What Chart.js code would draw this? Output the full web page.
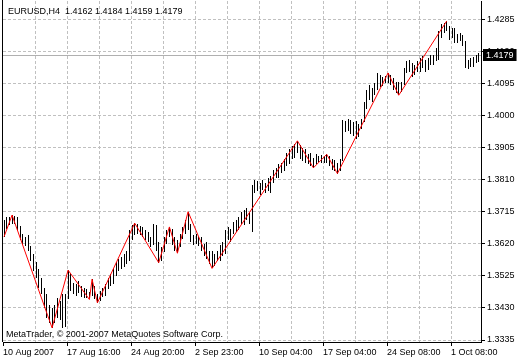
<!DOCTYPE html>
<html lang="en">
  <head>
    <meta charset="UTF-8" />
    <title>EURUSD,H4</title>
    <style>
      body { margin: 0; background: #fff; }
      canvas { display: block; }
    </style>
  </head>
  <body>
    <canvas id="chart" width="520" height="360"></canvas>
    <script src="https://cdn.jsdelivr.net/npm/chart.js"></script>
    <script>
      // H4 bars (one entry per bar, oldest first)
      const highs = [
        1.3690, 1.3700, 1.3698, 1.3705, 1.3702, 1.3700, 1.3672, 1.3650, 1.3640, 1.3645,
        1.3612, 1.3590, 1.3565, 1.3545, 1.3520, 1.3490, 1.3470, 1.3440, 1.3430, 1.3440,
        1.3460, 1.3450, 1.3470, 1.3470, 1.3542, 1.3530, 1.3505, 1.3500, 1.3510, 1.3495,
        1.3490, 1.3485, 1.3478, 1.3515, 1.3495, 1.3470, 1.3480, 1.3490, 1.3500, 1.3520,
        1.3530, 1.3545, 1.3565, 1.3575, 1.3580, 1.3590, 1.3600, 1.3660, 1.3675, 1.3681,
        1.3678, 1.3672, 1.3670, 1.3660, 1.3655, 1.3640, 1.3680, 1.3675, 1.3625, 1.3610,
        1.3640, 1.3660, 1.3670, 1.3665, 1.3640, 1.3630, 1.3650, 1.3670, 1.3690, 1.3715,
        1.3680, 1.3645, 1.3648, 1.3640, 1.3640, 1.3620, 1.3625, 1.3600, 1.3598, 1.3590,
        1.3600, 1.3615, 1.3625, 1.3660, 1.3670, 1.3665, 1.3685, 1.3690, 1.3700, 1.3715,
        1.3720, 1.3725, 1.3715, 1.3795, 1.3810, 1.3805, 1.3800, 1.3810, 1.3800, 1.3815,
        1.3820, 1.3840, 1.3845, 1.3855, 1.3860, 1.3870, 1.3890, 1.3900, 1.3910, 1.3915,
        1.3925, 1.3912, 1.3905, 1.3902, 1.3885, 1.3888, 1.3875, 1.3885, 1.3880, 1.3882,
        1.3880, 1.3885, 1.3880, 1.3870, 1.3868, 1.3858, 1.3870, 1.3986, 1.3985, 1.3990,
        1.3988, 1.3982, 1.3985, 1.3975, 1.3990, 1.4040, 1.4075, 1.4090, 1.4080, 1.4095,
        1.4125, 1.4120, 1.4115, 1.4118, 1.4126, 1.4120, 1.4110, 1.4100, 1.4098, 1.4100,
        1.4140, 1.4160, 1.4165, 1.4155, 1.4150, 1.4160, 1.4170, 1.4175, 1.4165, 1.4170,
        1.4180, 1.4180, 1.4200, 1.4250, 1.4270, 1.4275, 1.4280, 1.4265, 1.4260, 1.4258,
        1.4240, 1.4245, 1.4238, 1.4220, 1.4165, 1.4170, 1.4172, 1.4178, 1.4184
      ];
      const lows = [
        1.3640, 1.3665, 1.3675, 1.3680, 1.3680, 1.3660, 1.3630, 1.3615, 1.3612, 1.3600,
        1.3570, 1.3540, 1.3520, 1.3490, 1.3470, 1.3430, 1.3400, 1.3385, 1.3371, 1.3385,
        1.3400, 1.3395, 1.3372, 1.3375, 1.3455, 1.3480, 1.3470, 1.3465, 1.3475, 1.3462,
        1.3460, 1.3458, 1.3455, 1.3465, 1.3455, 1.3445, 1.3450, 1.3462, 1.3465, 1.3485,
        1.3495, 1.3500, 1.3525, 1.3540, 1.3545, 1.3550, 1.3560, 1.3570, 1.3630, 1.3645,
        1.3650, 1.3645, 1.3640, 1.3630, 1.3625, 1.3610, 1.3615, 1.3600, 1.3564, 1.3570,
        1.3595, 1.3620, 1.3640, 1.3615, 1.3600, 1.3592, 1.3610, 1.3635, 1.3650, 1.3660,
        1.3625, 1.3615, 1.3620, 1.3612, 1.3600, 1.3585, 1.3575, 1.3560, 1.3547, 1.3555,
        1.3570, 1.3570, 1.3585, 1.3590, 1.3630, 1.3625, 1.3650, 1.3655, 1.3660, 1.3680,
        1.3675, 1.3690, 1.3680, 1.3655, 1.3770, 1.3775, 1.3765, 1.3780, 1.3770, 1.3775,
        1.3770, 1.3800, 1.3815, 1.3815, 1.3830, 1.3835, 1.3850, 1.3855, 1.3870, 1.3875,
        1.3890, 1.3870, 1.3865, 1.3860, 1.3855, 1.3850, 1.3845, 1.3855, 1.3862, 1.3860,
        1.3858, 1.3860, 1.3850, 1.3840, 1.3835, 1.3828, 1.3835, 1.3865, 1.3950, 1.3955,
        1.3945, 1.3940, 1.3930, 1.3935, 1.3960, 1.3980, 1.4020, 1.4045, 1.4040, 1.4060,
        1.4075, 1.4085, 1.4088, 1.4095, 1.4095, 1.4090, 1.4075, 1.4068, 1.4060, 1.4070,
        1.4090, 1.4125, 1.4130, 1.4115, 1.4120, 1.4130, 1.4130, 1.4140, 1.4130, 1.4135,
        1.4150, 1.4150, 1.4160, 1.4165, 1.4230, 1.4245, 1.4250, 1.4225, 1.4230, 1.4215,
        1.4215, 1.4220, 1.4205, 1.4140, 1.4138, 1.4145, 1.4145, 1.4155, 1.4159
      ];

      // ZigZag swing points (bar number, price)
      const zigzagBars = [0, 3, 18, 24, 32, 33, 35, 49, 58, 62, 65, 69, 78, 110, 116, 121, 125, 144, 148, 166];
      const zigzagPrices = [
        1.3641, 1.3705, 1.3371, 1.3542, 1.3455, 1.3515, 1.3445, 1.3681, 1.3564, 1.3670,
        1.3592, 1.3715, 1.3547, 1.3925, 1.3845, 1.3885, 1.3828, 1.4126, 1.4060, 1.4280
      ];

      const priceTicks = [1.3335, 1.3430, 1.3525, 1.3620, 1.3715, 1.3810, 1.3905, 1.4000, 1.4095, 1.4190, 1.4285];
      const timeLabels = [
        '10 Aug 2007', '', '17 Aug 16:00', '', '24 Aug 20:00', '', '2 Sep 23:00', '',
        '10 Sep 04:00', '', '17 Sep 04:00', '', '24 Sep 08:00', '', '1 Oct 08:00'
      ];
      const lastBar = [1.4162, 1.4184, 1.4159, 1.4179]; // open high low close

      const symbolTitle = 'EURUSD,H4';
      const copyright = 'MetaTrader, \u00a9 2001-2007 MetaQuotes Software Corp.';

      const barsPerGrid = 12;
      const firstGrid = -0.4;
      const FONT = '"Liberation Sans", Arial, sans-serif';

      const bars = highs.map((h, i) => ({ x: i, y: [lows[i], h] }));
      const zigzag = zigzagBars.map((b, k) => ({ x: b, y: zigzagPrices[k] }));

      const terminal = {
        id: 'terminal',
        afterDatasetsUpdate(chart) {
          // keep the 1px bars on whole pixels
          chart.getDatasetMeta(1).data.forEach(el => {
            el.x = Math.floor(el.x) + 0.5;
            el.y = Math.round(el.y);
            el.base = Math.round(el.base);
          });
        },
        beforeDatasetsDraw(chart) {
          const { ctx, chartArea } = chart;
          const y = Math.round(chart.scales.y.getPixelForValue(lastBar[3])) + 0.5;
          ctx.save();
          ctx.strokeStyle = '#b0b0b0';
          ctx.lineWidth = 1;
          ctx.beginPath();
          ctx.moveTo(chartArea.left, y);
          ctx.lineTo(chartArea.right, y);
          ctx.stroke();
          ctx.restore();
        },
        afterDraw(chart) {
          const { ctx, chartArea } = chart;
          ctx.save();
          // left frame
          ctx.strokeStyle = '#000';
          ctx.lineWidth = 1;
          ctx.beginPath();
          ctx.moveTo(chartArea.left - 0.5, 0);
          ctx.lineTo(chartArea.left - 0.5, chartArea.bottom);
          ctx.stroke();

          ctx.font = '9px ' + FONT;
          ctx.fillStyle = '#000';
          ctx.textBaseline = 'alphabetic';
          ctx.textAlign = 'left';
          ctx.fillText(symbolTitle + '  ' + lastBar.map(v => v.toFixed(4)).join(' '), 8, 14);
          ctx.fillText(copyright, 6, 337);

          // current price box
          const y = Math.round(chart.scales.y.getPixelForValue(lastBar[3]));
          const txt = lastBar[3].toFixed(4);
          const w = ctx.measureText(txt).width + 6;
          ctx.fillStyle = '#000';
          ctx.fillRect(chartArea.right + 2, y - 6, w, 12);
          ctx.fillStyle = '#fff';
          ctx.textBaseline = 'middle';
          ctx.fillText(txt, chartArea.right + 5, y + 0.5);
          ctx.restore();
        }
      };

      new Chart(document.getElementById('chart'), {
        type: 'bar',
        data: {
          datasets: [
            {
              type: 'line',
              label: 'ZigZag',
              data: zigzag,
              borderColor: '#ff0000',
              borderWidth: 1,
              pointRadius: 0,
              tension: 0,
              order: 0
            },
            {
              type: 'bar',
              label: 'EURUSD',
              data: bars,
              backgroundColor: '#000',
              borderWidth: 0,
              barThickness: 1,
              inflateAmount: 0,
              grouped: false,
              order: 1
            }
          ]
        },
        options: {
          responsive: false,
          animation: false,
          layout: { padding: { left: 3, top: 1, right: 0, bottom: 0 } },
          plugins: {
            legend: { display: false },
            tooltip: { enabled: false }
          },
          scales: {
            x: {
              type: 'linear',
              offset: false,
              min: firstGrid,
              max: firstGrid + 478 / (32 / barsPerGrid),
              afterBuildTicks: s => {
                s.ticks = timeLabels.map((_, k) => ({ value: firstGrid + k * barsPerGrid }));
              },
              afterFit: s => {
                s.height = 18;
                s.paddingLeft = 0;
                s.paddingRight = 0;
              },
              ticks: {
                autoSkip: false,
                maxRotation: 0,
                align: 'start',
                padding: 1,
                color: '#000',
                font: { family: '"Liberation Sans Narrow", ' + FONT, size: 9 },
                callback: (v, i) => timeLabels[i]
              },
              grid: {
                offset: false,
                color: c => (c.index === 0 ? 'rgba(0,0,0,0)' : '#c0c0c0'),
                tickLength: 4,
                tickColor: c => (timeLabels[c.index] ? '#000' : 'rgba(0,0,0,0)')
              },
              border: { color: '#000', dash: [3, 2] }
            },
            y: {
              position: 'right',
              min: 1.33291,
              max: 1.33291 + 341 / 3376,
              afterBuildTicks: s => {
                s.ticks = priceTicks.map(v => ({ value: v }));
              },
              afterFit: s => {
                s.width = 39;
                s.paddingTop = 0;
                s.paddingBottom = 0;
              },
              ticks: {
                padding: 2,
                color: '#000',
                font: { family: FONT, size: 9 },
                callback: v => v.toFixed(4)
              },
              grid: {
                color: '#c0c0c0',
                tickLength: 4,
                tickColor: '#000'
              },
              border: { color: '#000', dash: [3, 2] }
            }
          }
        },
        plugins: [terminal]
      });
    </script>
  </body>
</html>
